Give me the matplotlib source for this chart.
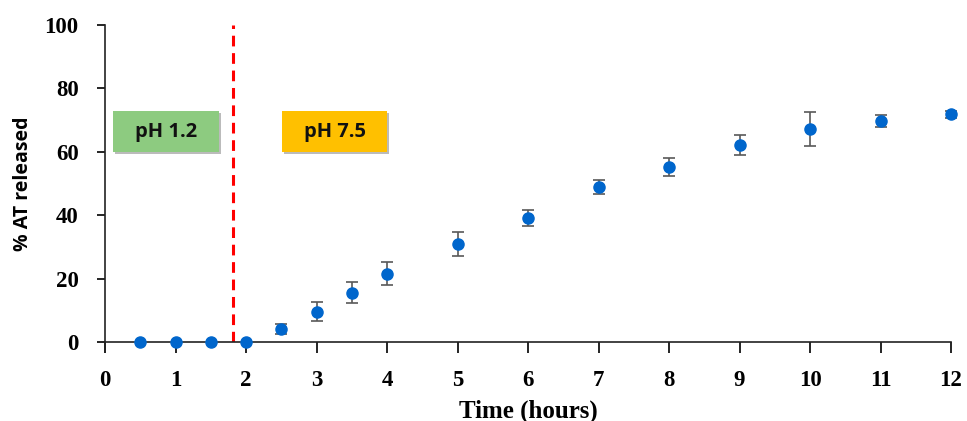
import matplotlib
matplotlib.use('Agg')
import matplotlib.pyplot as plt
from matplotlib.patches import Rectangle

# Release data (time in hours, % released, error)
time_h = [0.5, 1, 1.5, 2, 2.5, 3, 3.5, 4, 5, 6, 7, 8, 9, 10, 11, 12]
released = [0, 0, 0, 0, 4.1, 9.6, 15.5, 21.6, 31.0, 39.0, 48.9, 55.1, 62.2, 67.2, 69.7, 71.8]
err = [0, 0, 0, 0, 1.5, 3.0, 3.3, 3.5, 3.8, 2.5, 2.1, 2.8, 3.2, 5.3, 1.9, 1.0]

x_ticks = list(range(0, 13))
y_ticks = [0, 20, 40, 60, 80, 100]
switch_time = 1.82

fig = plt.figure(figsize=(9.67, 4.21), dpi=100)
ax = fig.add_axes([0.1086, 0.1876, 0.8749, 0.753])

# Points with error bars
pts = ax.errorbar(time_h, released, yerr=err, fmt='o', color='#0066CC', markersize=8,
                  ecolor='#595959', elinewidth=1.2, capsize=4, capthick=1.2, zorder=3)
for art in pts.lines[0:1] + tuple(pts.lines[1]) + tuple(pts.lines[2]):
    art.set_clip_on(False)

# pH switch line
ax.plot([switch_time, switch_time], [0, 100], color='#FF0000', linestyle=(0, (3.5, 2.2)),
        linewidth=2.2, zorder=2)

# Labelled boxes with shadow
for x0, x1, col, txt in [(0.11, 1.62, '#8DCB80', 'pH 1.2'), (2.51, 4.0, '#FFC000', 'pH 7.5')]:
    shadow = Rectangle((x0 + 0.03, 59.2), x1 - x0, 13.0, facecolor='#BBBBBB',
                       edgecolor='none', zorder=1)
    ax.add_patch(shadow)
    box = Rectangle((x0, 60.0), x1 - x0, 13.0, facecolor=col, edgecolor='none', zorder=2)
    ax.add_patch(box)
    ax.text((x0 + x1) / 2, 66.3, txt, ha='center', va='center', fontsize=14.5,
            fontweight='bold', family='Open Sans', color='#111111', zorder=3)

ax.set_xlim(0, 12)
ax.set_ylim(0, 100)
ax.set_xticks(x_ticks)
ax.set_yticks(y_ticks)
ax.spines['top'].set_visible(False)
ax.spines['right'].set_visible(False)
ax.spines['left'].set_color('#222222')
ax.spines['bottom'].set_color('#222222')
ax.spines['left'].set_linewidth(1.2)
ax.spines['bottom'].set_linewidth(1.2)
ax.spines['left'].set_bounds(-3, 100)
ax.tick_params(axis='x', direction='out', length=8, width=1.2, pad=12)
ax.tick_params(axis='y', direction='out', length=6, width=1.2, pad=13)
for lbl in ax.get_xticklabels() + ax.get_yticklabels():
    lbl.set_fontfamily('Liberation Serif')
    lbl.set_fontweight('bold')
    lbl.set_fontsize(16.5)

ax.set_xlabel('Time (hours)', family='Liberation Serif', fontweight='bold', fontsize=18, labelpad=6)
ax.set_ylabel('% AT released', family='Open Sans', fontweight='bold', fontsize=14, labelpad=8)

fig.savefig('out.png', dpi=100)
